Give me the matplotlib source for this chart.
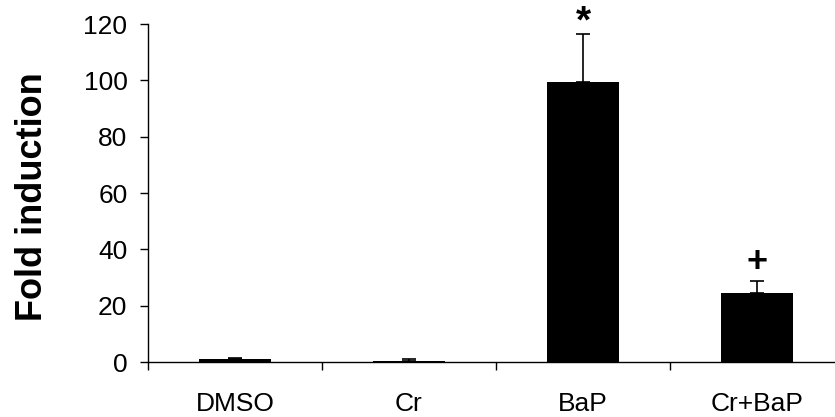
import numpy as np
import matplotlib.pyplot as plt

plt.rcParams['font.family'] = ['Liberation Sans', 'DejaVu Sans']

# Datos
grupos = ["DMSO", "Cr", "BaP", "Cr+BaP"]
induccion = [1.0, 0.5, 99.4, 24.6]  # Fold induction promedio
error_sup = [0.3, 0.6, 16.9, 4.2]   # desviacion (solo barra superior)
marcas = ["", "", "*", "+"]          # significancia
marcas_y = [0, 0, 120.5, 35.5]

fig = plt.figure(figsize=(8.35, 4.17), dpi=100)
ax = fig.add_axes([148 / 835, 55 / 417, 696 / 835, 338 / 417])

x = np.arange(len(grupos))
ax.bar(x, induccion, width=0.41, color="black", zorder=2)
ax.errorbar(x, induccion, yerr=[np.zeros(len(grupos)), error_sup], fmt="none",
            ecolor="black", elinewidth=1.2, capsize=4.7, capthick=1.2, zorder=3)

for xi, m, my in zip(x, marcas, marcas_y):
    if m:
        ax.text(xi, my, m, ha="center", va="center", fontsize=28 if m == "*" else 26,
                fontweight="bold")

# Ejes
ax.set_xlim(-0.5, 3.5)
ax.set_ylim(0, 120)
ax.set_yticks(range(0, 121, 20))
ax.set_xticks(x)
ax.set_xticklabels(grupos)
ax.set_xticks([-0.5, 0.5, 1.5, 2.5], minor=True)
ax.tick_params(axis="x", which="major", length=0, pad=21.5, labelsize=19)
ax.tick_params(axis="x", which="minor", length=5.8, width=1, direction="out")
ax.tick_params(axis="y", length=5.8, width=1, direction="out", labelsize=19, pad=9)

for s in ["top", "right"]:
    ax.spines[s].set_visible(False)
ax.spines["left"].set_linewidth(1)
ax.spines["bottom"].set_linewidth(1)

ax.set_ylabel("Fold induction", fontsize=26, fontweight="bold")
ax.yaxis.set_label_coords(-0.141, 0.49)

fig.savefig("out.png", dpi=100)
